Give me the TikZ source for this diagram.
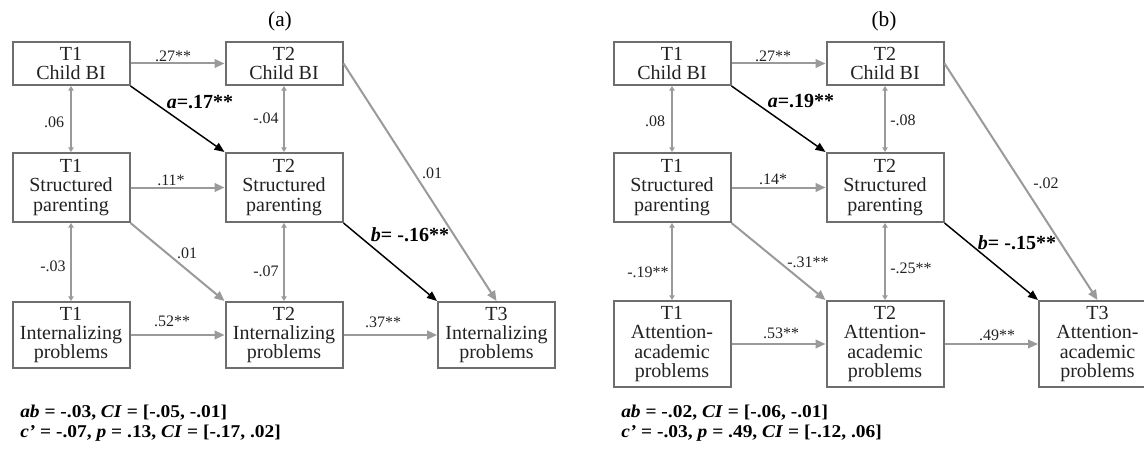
\documentclass[tikz,border=0pt]{standalone}
\usepackage{fontspec}
\setmainfont{Liberation Serif}
\newfontfamily\notefont[FakeStretch=1.08]{Liberation Serif}
\usetikzlibrary{arrows.meta}
\definecolor{boxgray}{HTML}{6E6E6E}
\definecolor{linegray}{HTML}{9A9A9A}
\definecolor{txtgray}{HTML}{222222}
\tikzset{
  var/.style={draw=boxgray, line width=1.5pt, minimum width=87.75pt, inner sep=0pt,
    align=center, text=txtgray, font=\fontsize{15}{14.3}\selectfont},
  reg/.style={draw=linegray, line width=1.5pt, -{Triangle[length=7.5pt,width=6.5pt]}},
  med/.style={draw=black, line width=1.1pt, -{Triangle[length=7.5pt,width=6pt]}},
  cov/.style={draw=linegray, line width=1.2pt,
    {Triangle[length=3.5pt,width=4pt]}-{Triangle[length=3.5pt,width=4pt]}},
  coef/.style={inner sep=0pt, text=txtgray, font=\fontsize{12}{12}\selectfont},
  bcoef/.style={inner sep=0pt, text=black, font=\fontsize{15}{15}\selectfont\bfseries},
  note/.style={inner sep=0pt, anchor=base west, text=black, font=\notefont\fontsize{13.5}{13.5}\selectfont\bfseries},
  title/.style={inner sep=0pt, font=\fontsize{16}{16}\selectfont}
}
\newcommand{\bi}[1]{\textbf{\textit{#1}}}
\begin{document}
\begin{tikzpicture}[x=0.75pt, y=-0.75pt]
\clip (0,0) rectangle (1144,449);
% (a) internalizing problems
\begin{scope}
\node[title] (ta) at (280,21) {(a)};
\node[var, minimum height=32.25pt] (t1bi) at (71,63.5) {T1\\Child BI};
\node[var, minimum height=32.25pt] (t2bi) at (284,63.5) {T2\\Child BI};
\node[var, minimum height=51.75pt] (t1sp) at (71,187.5) {T1\\Structured\\parenting};
\node[var, minimum height=51.75pt] (t2sp) at (284,187.5) {T2\\Structured\\parenting};
\node[var, minimum height=49.5pt] (t1ip) at (71,335) {T1\\Internalizing\\problems};
\node[var, minimum height=49.5pt] (t2ip) at (284,335) {T2\\Internalizing\\problems};
\node[var, minimum height=49.5pt] (t3ip) at (496.5,335) {T3\\Internalizing\\problems};
\foreach \a/\b in {t1bi/t1sp,t1sp/t1ip,t2bi/t2sp,t2sp/t2ip} \draw[cov] (\a.south) -- (\b.north);
\draw[reg] (t1bi) -- (t2bi);
\draw[reg] (t1sp) -- (t2sp);
\draw[reg] (t1ip) -- (t2ip);
\draw[reg] (t2ip) -- (t3ip);
\draw[reg] (t1sp.south east) -- (t2ip.north west);
\draw[reg] (t2bi.east) -- (t3ip.north);
\draw[med] (t1bi.south east) -- (t2sp.north west);
\draw[med] (t2sp.south east) -- (t3ip.north west);
\node[coef] (ca1) at (173,56) {.27**};
\node[coef] (ca2) at (54,122) {.06};
\node[coef] (ca3) at (266,118) {-.04};
\node[coef] (ca4) at (171,180) {.11*};
\node[coef] (ca5) at (432,173) {.01};
\node[coef] (ca6) at (53,266) {-.03};
\node[coef] (ca7) at (187,253) {.01};
\node[coef] (ca8) at (266,271) {-.07};
\node[coef] (ca9) at (172,321) {.52**};
\node[coef] (ca10) at (383,322) {.37**};
\node[bcoef] (aa) at (200,102) {\textit{a}=.17**};
\node[bcoef] (ba) at (410,235) {\textit{b}= -.16**};
\node[note] (na1) at (20,417) {\bi{ab} = -.03, \bi{CI} = [-.05, -.01]};
\node[note] (na2) at (20,437) {\bi{c’} = -.07, \bi{p} = .13, \bi{CI} = [-.17, .02]};
\end{scope}
% (b) attention-academic problems
\begin{scope}[shift={(601,0)}]
\node[title] (tb) at (283,21) {(b)};
\node[var, minimum height=32.25pt] (bt1bi) at (71,63.5) {T1\\Child BI};
\node[var, minimum height=32.25pt] (bt2bi) at (284,63.5) {T2\\Child BI};
\node[var, minimum height=51.75pt] (bt1sp) at (71,187.5) {T1\\Structured\\parenting};
\node[var, minimum height=51.75pt] (bt2sp) at (284,187.5) {T2\\Structured\\parenting};
\node[var, minimum height=64.5pt] (bt1ap) at (71,344) {T1\\Attention-\\academic\\problems};
\node[var, minimum height=64.5pt] (bt2ap) at (284,344) {T2\\Attention-\\academic\\problems};
\node[var, minimum height=64.5pt] (bt3ap) at (496.5,344) {T3\\Attention-\\academic\\problems};
\foreach \a/\b in {bt1bi/bt1sp,bt1sp/bt1ap,bt2bi/bt2sp,bt2sp/bt2ap} \draw[cov] (\a.south) -- (\b.north);
\draw[reg] (bt1bi) -- (bt2bi);
\draw[reg] (bt1sp) -- (bt2sp);
\draw[reg] (bt1ap) -- (bt2ap);
\draw[reg] (bt2ap) -- (bt3ap);
\draw[reg] (bt1sp.south east) -- (bt2ap.north west);
\draw[reg] (bt2bi.east) -- (bt3ap.north);
\draw[med] (bt1bi.south east) -- (bt2sp.north west);
\draw[med] (bt2sp.south east) -- (bt3ap.north west);
\node[coef] (cb1) at (172,56) {.27**};
\node[coef] (cb2) at (54,121) {.08};
\node[coef] (cb3) at (302,120) {-.08};
\node[coef] (cb4) at (172,179) {.14*};
\node[coef] (cb5) at (445,183) {-.02};
\node[coef] (cb6) at (47,272) {-.19**};
\node[coef] (cb7) at (207,262) {-.31**};
\node[coef] (cb8) at (310,268) {-.25**};
\node[coef] (cb9) at (180,333) {.53**};
\node[coef] (cb10) at (396,335) {.49**};
\node[bcoef] (ab) at (200,101) {\textit{a}=.19**};
\node[bcoef] (bb) at (416,243) {\textit{b}= -.15**};
\node[note] (nb1) at (20,417) {\bi{ab} = -.02, \bi{CI} = [-.06, -.01]};
\node[note] (nb2) at (20,437) {\bi{c’} = -.03, \bi{p} = .49, \bi{CI} = [-.12, .06]};
\end{scope}
\end{tikzpicture}
\end{document}
